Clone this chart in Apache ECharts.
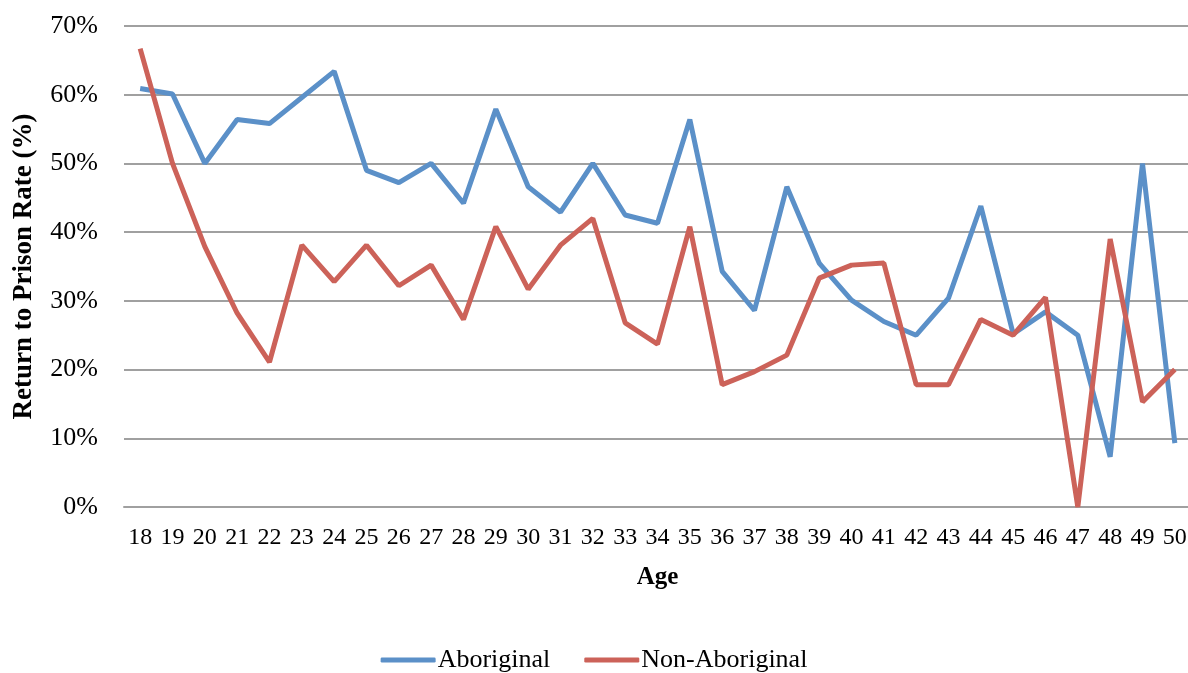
<!DOCTYPE html>
<html>
<head>
<meta charset="utf-8">
<script src="https://cdn.jsdelivr.net/npm/echarts@6/dist/echarts.min.js"></script>
<style>
  html, body { margin: 0; padding: 0; background: #fff; }
  #chart { width: 1188px; height: 673px; }
</style>
</head>
<body>
<div id="chart"></div>
<script>
var ages = ["18","19","20","21","22","23","24","25","26","27","28","29","30","31","32","33",
            "34","35","36","37","38","39","40","41","42","43","44","45","46","47","48","49","50"];

var aboriginal = [60.9, 60.1, 50.0, 56.4, 55.8, 59.6, 63.4, 49.0, 47.2, 50.0, 44.2, 57.9, 46.6, 42.9,
                  50.0, 42.5, 41.3, 56.4, 34.3, 28.6, 46.6, 35.5, 30.1, 27.0, 25.0, 30.4, 43.8, 25.2,
                  28.4, 25.0, 7.3, 50.0, 9.3];

var nonAboriginal = [66.7, 50.0, 37.9, 28.2, 21.1, 38.1, 32.8, 38.1, 32.2, 35.2, 27.3, 40.8, 31.7, 38.1,
                     42.0, 26.8, 23.7, 40.8, 17.8, 19.7, 22.1, 33.3, 35.2, 35.5, 17.8, 17.8, 27.3, 25.0,
                     30.5, 0, 39.0, 15.3, 20.0];

var font = "'Liberation Serif', 'DejaVu Serif', serif";

var chart = echarts.init(document.getElementById("chart"));
chart.setOption({
    animation: false,
    textStyle: { fontFamily: font, color: "#000" },
    // plot runs a little past the right edge, as in the original
    grid: { left: 124, right: -3, top: 26, bottom: 166, outerBoundsMode: "none" },
    legend: {
        top: 642,
        left: "center",
        icon: "roundRect",
        itemWidth: 55,
        itemHeight: 5,
        itemGap: 34,
        textStyle: { fontFamily: font, fontSize: 26, color: "#000", padding: [0, 0, 0, -3] },
        data: ["Aboriginal", "Non-Aboriginal"]
    },
    xAxis: {
        type: "category",
        data: ages,
        name: "Age",
        nameLocation: "middle",
        nameGap: 58,
        nameTextStyle: { fontFamily: font, fontSize: 25, fontWeight: "bold", color: "#000" },
        axisLine: { lineStyle: { color: "#a0a0a0", width: 2 } },
        axisTick: { show: false },
        axisLabel: { fontSize: 24, color: "#000", margin: 19, interval: 0 }
    },
    yAxis: {
        type: "value",
        min: 0,
        max: 0.7,
        interval: 0.1,
        name: "Return to Prison Rate (%)",
        nameLocation: "middle",
        nameGap: 86,
        nameTextStyle: { fontFamily: font, fontSize: 27, fontWeight: "bold", color: "#000" },
        axisLine: { show: false },
        axisTick: { show: false },
        axisLabel: {
            fontSize: 26,
            color: "#000",
            margin: 26,
            formatter: function (v) { return Math.round(v * 100) + "%"; }
        },
        splitLine: { lineStyle: { color: "#a0a0a0", width: 2 } }
    },
    series: [
        {
            name: "Aboriginal",
            type: "line",
            data: aboriginal.map(function (v) { return v / 100; }),
            symbol: "none",
            lineStyle: { width: 5, color: "#5b90c8" },
            itemStyle: { color: "#5b90c8" }
        },
        {
            name: "Non-Aboriginal",
            type: "line",
            data: nonAboriginal.map(function (v) { return v / 100; }),
            symbol: "none",
            lineStyle: { width: 5, color: "#cc6259" },
            itemStyle: { color: "#cc6259" }
        }
    ]
});
</script>
</body>
</html>
